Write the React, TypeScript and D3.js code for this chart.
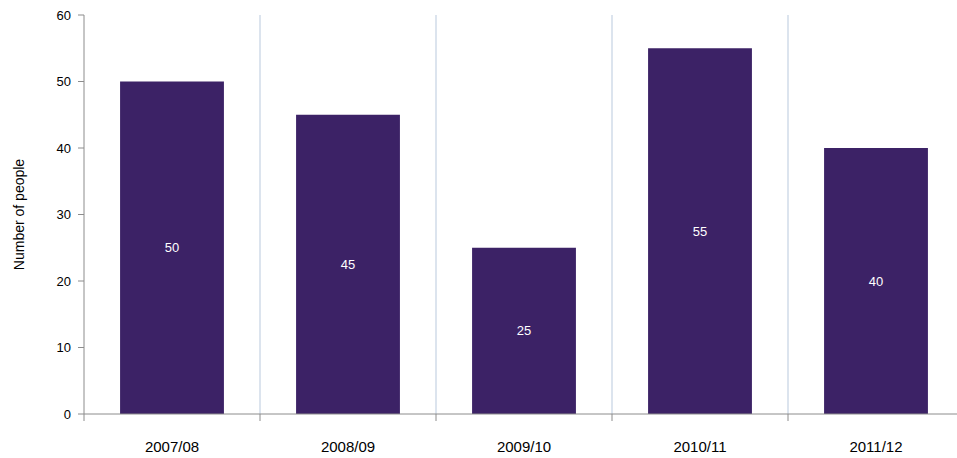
import { scaleBand, scaleLinear } from "d3";

const categories = ["2007/08", "2008/09", "2009/10", "2010/11", "2011/12"];
const values = [50, 45, 25, 55, 40];
const yTicks = [0, 10, 20, 30, 40, 50, 60];

export default function App() {
  const W = 957;
  const H = 458;
  const left = 84;
  const right = 964;
  const top = 15;
  const bottom = 414;

  const x = scaleBand<string>().domain(categories).range([left, right]).paddingInner(0).paddingOuter(0);
  const y = scaleLinear().domain([0, 60]).range([bottom, top]);
  const bw = x.bandwidth();
  const barW = bw * 0.59;
  const grid = "#b9c9dd";
  const axis = "#8c8c8c";

  return (
    <svg width={W} height={H} style={{ position: "fixed", left: 0, top: 0, fontFamily: "Liberation Sans, Arial, sans-serif" }}>
      <rect width={W} height={H} fill="#fff" />
      {categories.slice(1).map((c) => (
        <line key={c} x1={x(c)} x2={x(c)} y1={top} y2={bottom} stroke={grid} />
      ))}
      <line x1={right} x2={right} y1={top} y2={bottom} stroke={grid} />
      {categories.map((c, i) => {
        const cx = (x(c) ?? 0) + bw / 2;
        return (
          <g key={c}>
            <rect x={cx - barW / 2} y={y(values[i])} width={barW} height={bottom - y(values[i])} fill="#3c2266" />
            <text x={cx} y={(y(values[i]) + bottom) / 2} dy="0.35em" textAnchor="middle" fontSize={13} fill="#fff">
              {values[i]}
            </text>
            <text x={cx} y={447} dy="0.35em" textAnchor="middle" fontSize={15} fill="#000">
              {c}
            </text>
          </g>
        );
      })}
      <line x1={left} x2={left} y1={top} y2={bottom} stroke={axis} />
      <line x1={left} x2={right} y1={bottom} y2={bottom} stroke={axis} />
      {yTicks.map((t) => (
        <g key={t}>
          <line x1={left - 6} x2={left} y1={y(t)} y2={y(t)} stroke={axis} />
          <text x={left - 13} y={y(t)} dy="0.35em" textAnchor="end" fontSize={13}>
            {t}
          </text>
        </g>
      ))}
      {[...categories, null].map((c, i) => {
        const xx = left + i * bw;
        return <line key={i} x1={xx} x2={xx} y1={bottom} y2={bottom + 7} stroke={axis} />;
      })}
      <text transform={`translate(19,${(top + bottom) / 2}) rotate(-90)`} textAnchor="middle" dy="0.35em" fontSize={14}>
        Number of people
      </text>
    </svg>
  );
}
